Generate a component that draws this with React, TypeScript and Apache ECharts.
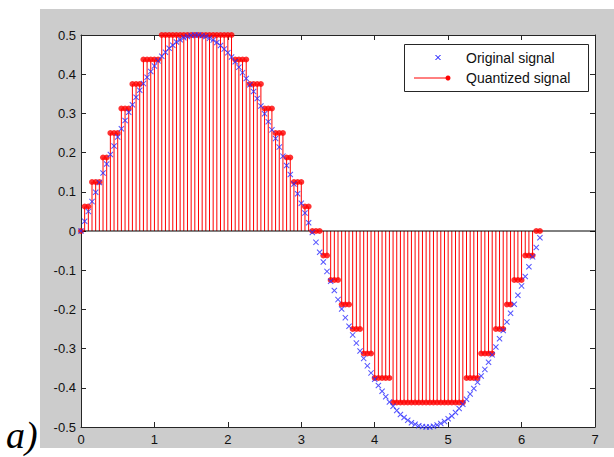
import React, { useEffect, useRef } from "react";
import * as echarts from "echarts";

const TIMES = [
  0, 0.05, 0.1, 0.15, 0.2, 0.25, 0.3, 0.35, 0.4, 0.45,
  0.5, 0.55, 0.6, 0.65, 0.7, 0.75, 0.8, 0.85, 0.9, 0.95,
  1.0, 1.05, 1.1, 1.15, 1.2, 1.25, 1.3, 1.35, 1.4, 1.45,
  1.5, 1.55, 1.6, 1.65, 1.7, 1.75, 1.8, 1.85, 1.9, 1.95,
  2.0, 2.05, 2.1, 2.15, 2.2, 2.25, 2.3, 2.35, 2.4, 2.45,
  2.5, 2.55, 2.6, 2.65, 2.7, 2.75, 2.8, 2.85, 2.9, 2.95,
  3.0, 3.05, 3.1, 3.15, 3.2, 3.25, 3.3, 3.35, 3.4, 3.45,
  3.5, 3.55, 3.6, 3.65, 3.7, 3.75, 3.8, 3.85, 3.9, 3.95,
  4.0, 4.05, 4.1, 4.15, 4.2, 4.25, 4.3, 4.35, 4.4, 4.45,
  4.5, 4.55, 4.6, 4.65, 4.7, 4.75, 4.8, 4.85, 4.9, 4.95,
  5.0, 5.05, 5.1, 5.15, 5.2, 5.25, 5.3, 5.35, 5.4, 5.45,
  5.5, 5.55, 5.6, 5.65, 5.7, 5.75, 5.8, 5.85, 5.9, 5.95,
  6.0, 6.05, 6.1, 6.15, 6.2, 6.25,
];

const ORIGINAL = [
  0, 0.025, 0.05, 0.075, 0.099, 0.124, 0.148, 0.171, 0.195, 0.217,
  0.24, 0.261, 0.282, 0.303, 0.322, 0.341, 0.359, 0.376, 0.392, 0.407,
  0.421, 0.434, 0.446, 0.456, 0.466, 0.474, 0.482, 0.488, 0.493, 0.496,
  0.499, 0.5, 0.5, 0.498, 0.496, 0.492, 0.487, 0.481, 0.473, 0.464,
  0.455, 0.444, 0.432, 0.418, 0.404, 0.389, 0.373, 0.356, 0.338, 0.319,
  0.299, 0.279, 0.258, 0.236, 0.214, 0.191, 0.167, 0.144, 0.12, 0.095,
  0.071, 0.046, 0.021, -0.004, -0.029, -0.054, -0.079, -0.103, -0.128, -0.152,
  -0.175, -0.199, -0.221, -0.243, -0.265, -0.286, -0.306, -0.325, -0.344, -0.362,
  -0.378, -0.394, -0.409, -0.423, -0.436, -0.447, -0.458, -0.468, -0.476, -0.483,
  -0.489, -0.493, -0.497, -0.499, -0.5, -0.5, -0.498, -0.495, -0.491, -0.486,
  -0.479, -0.472, -0.463, -0.453, -0.442, -0.429, -0.416, -0.402, -0.386, -0.37,
  -0.353, -0.335, -0.316, -0.296, -0.275, -0.254, -0.232, -0.21, -0.187, -0.164,
  -0.14, -0.116, -0.091, -0.066, -0.042, -0.017,
];

const QUANTIZED = [
  0, 0.0625, 0.0625, 0.125, 0.125, 0.125, 0.1875, 0.1875, 0.25, 0.25,
  0.25, 0.3125, 0.3125, 0.3125, 0.375, 0.375, 0.375, 0.4375, 0.4375, 0.4375,
  0.4375, 0.4375, 0.5, 0.5, 0.5, 0.5, 0.5, 0.5, 0.5, 0.5,
  0.5, 0.5, 0.5, 0.5, 0.5, 0.5, 0.5, 0.5, 0.5, 0.5,
  0.5, 0.5, 0.4375, 0.4375, 0.4375, 0.4375, 0.375, 0.375, 0.375, 0.375,
  0.3125, 0.3125, 0.3125, 0.25, 0.25, 0.25, 0.1875, 0.1875, 0.125, 0.125,
  0.125, 0.0625, 0.0625, 0, 0, 0, -0.0625, -0.0625, -0.125, -0.125,
  -0.125, -0.1875, -0.1875, -0.1875, -0.25, -0.25, -0.25, -0.3125, -0.3125, -0.3125,
  -0.375, -0.375, -0.375, -0.375, -0.375, -0.4375, -0.4375, -0.4375, -0.4375, -0.4375,
  -0.4375, -0.4375, -0.4375, -0.4375, -0.4375, -0.4375, -0.4375, -0.4375, -0.4375, -0.4375,
  -0.4375, -0.4375, -0.4375, -0.4375, -0.4375, -0.375, -0.375, -0.375, -0.375, -0.3125,
  -0.3125, -0.3125, -0.3125, -0.25, -0.25, -0.25, -0.1875, -0.1875, -0.125, -0.125,
  -0.125, -0.0625, -0.0625, -0.0625, 0, 0,
];

const X_RANGE = [0, 7];
const Y_RANGE = [-0.5, 0.5];
const LEGEND_LABELS = ["Original signal", "Quantized signal"];
const PANEL_LABEL = "a)";

const FONT = "'Liberation Sans', Arial, sans-serif";
const AXIS_COLOR = "#262626";
const X_SYMBOL =
  "path://M0,1.2L1.2,0L5,3.8L8.8,0L10,1.2L6.2,5L10,8.8L8.8,10L5,6.2L1.2,10L0,8.8L3.8,5Z";

export default function App() {
  const ref = useRef<HTMLDivElement>(null);

  useEffect(() => {
    if (!ref.current) return;
    const chart = echarts.init(ref.current, null, { renderer: "svg" });

    const origData = TIMES.map((t, i) => [t, ORIGINAL[i]]);
    const quantData = TIMES.map((t, i) => [t, QUANTIZED[i]]);

    const axisCommonX = {
      type: "value" as const,
      min: X_RANGE[0],
      max: X_RANGE[1],
      interval: 1,
      splitLine: { show: false },
      axisLine: { show: true, onZero: false, lineStyle: { color: AXIS_COLOR, width: 1 } },
      axisTick: { show: true, inside: true, length: 5, lineStyle: { color: AXIS_COLOR, width: 1 } },
    };
    const axisCommonY = {
      type: "value" as const,
      min: Y_RANGE[0],
      max: Y_RANGE[1],
      interval: 0.1,
      splitLine: { show: false },
      axisLine: { show: true, onZero: false, lineStyle: { color: AXIS_COLOR, width: 1 } },
      axisTick: { show: true, inside: true, length: 5, lineStyle: { color: AXIS_COLOR, width: 1 } },
    };

    chart.setOption({
      animation: false,
      backgroundColor: "#ffffff",
      grid: {
        left: 81,
        right: 19,
        top: 35,
        bottom: 30,
        show: true,
        backgroundColor: "#ffffff",
        borderColor: AXIS_COLOR,
        borderWidth: 0,
      },
      xAxis: [
        {
          ...axisCommonX,
          position: "bottom",
          axisLabel: { color: "#111", fontSize: 13, fontFamily: FONT, margin: 6 },
        },
        { ...axisCommonX, position: "top", axisLabel: { show: false } },
      ],
      yAxis: [
        {
          ...axisCommonY,
          position: "left",
          axisLabel: {
            color: "#111",
            fontSize: 13,
            fontFamily: FONT,
            margin: 5,
            formatter: (v: number) => String(Math.round(v * 10) / 10),
          },
        },
        { ...axisCommonY, position: "right", axisLabel: { show: false } },
      ],
      graphic: [
        {
          type: "rect",
          z: -100,
          silent: true,
          shape: { x: 40, y: 9, width: 574, height: 439 },
          style: { fill: "#cccccc" },
        },
        {
          type: "text",
          z: 10,
          silent: true,
          x: 6,
          y: 435,
          style: {
            text: PANEL_LABEL,
            font: "italic 38px 'Liberation Serif', 'Times New Roman', serif",
            fill: "#000",
            textVerticalAlign: "middle",
          },
        },
        {
          type: "group",
          z: 100,
          silent: true,
          children: [
            {
              type: "rect",
              shape: { x: 404.5, y: 44.5, width: 184, height: 47 },
              style: { fill: "#ffffff", stroke: AXIS_COLOR, lineWidth: 1 },
              z: 100,
            },
            {
              type: "line",
              shape: { x1: 435.5, y1: 55, x2: 440.5, y2: 60 },
              style: { stroke: "#0000ff", lineWidth: 1 },
              z: 101,
            },
            {
              type: "line",
              shape: { x1: 440.5, y1: 55, x2: 435.5, y2: 60 },
              style: { stroke: "#0000ff", lineWidth: 1 },
              z: 101,
            },
            {
              type: "line",
              shape: { x1: 414, y1: 78, x2: 448, y2: 78 },
              style: { stroke: "#ff0000", lineWidth: 1 },
              z: 101,
            },
            {
              type: "circle",
              shape: { cx: 448, cy: 78, r: 2.5 },
              style: { fill: "#ff0000" },
              z: 101,
            },
            {
              type: "text",
              x: 466,
              y: 57.5,
              style: {
                text: LEGEND_LABELS[0],
                font: `14px ${FONT}`,
                fill: "#111",
                textVerticalAlign: "middle",
              },
              z: 101,
            },
            {
              type: "text",
              x: 466,
              y: 78,
              style: {
                text: LEGEND_LABELS[1],
                font: `14px ${FONT}`,
                fill: "#111",
                textVerticalAlign: "middle",
              },
              z: 101,
            },
          ],
        },
      ],
      series: [
        {
          type: "custom",
          name: LEGEND_LABELS[1],
          silent: true,
          z: 2,
          data: quantData,
          renderItem: (_params: any, api: any) => {
            const x = api.value(0);
            const y = api.value(1);
            const p0 = api.coord([x, 0]);
            const p1 = api.coord([x, y]);
            return {
              type: "line",
              shape: { x1: p0[0], y1: p0[1], x2: p1[0], y2: p1[1] },
              style: { stroke: "#ff0000", lineWidth: 1 },
            };
          },
        },
        {
          type: "line",
          name: "baseline",
          silent: true,
          z: 3,
          symbol: "none",
          data: [
            [X_RANGE[0], 0],
            [X_RANGE[1], 0],
          ],
          lineStyle: { color: "#000", width: 1 },
        },
        {
          type: "scatter",
          name: LEGEND_LABELS[1] + " markers",
          silent: true,
          z: 4,
          symbol: "circle",
          symbolSize: 6,
          data: quantData,
          itemStyle: { color: "#ff0000" },
        },
        {
          type: "scatter",
          name: LEGEND_LABELS[0],
          silent: true,
          z: 5,
          symbol: X_SYMBOL,
          symbolSize: 6,
          data: origData,
          itemStyle: { color: "#2a2aff" },
        },
      ],
    });

    return () => chart.dispose();
  }, []);

  return (
    <div
      ref={ref}
      style={{ position: "absolute", left: 0, top: 0, width: 614, height: 457 }}
    />
  );
}
